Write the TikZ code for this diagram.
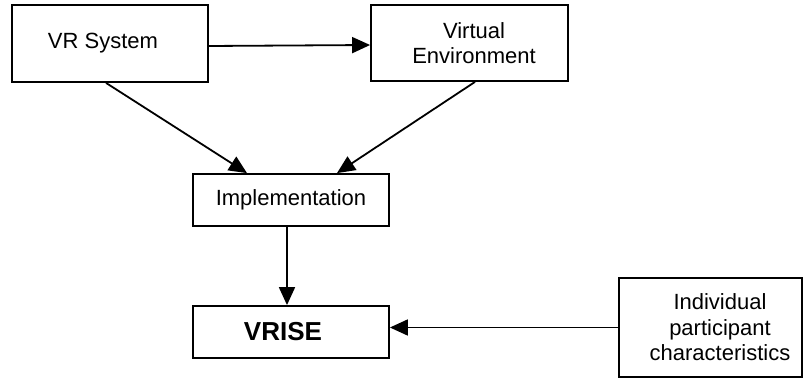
\documentclass[tikz,border=0pt]{standalone}
\usepackage{fontspec}
\setmainfont{Liberation Sans}
\usetikzlibrary{arrows.meta}
\begin{document}
\begin{tikzpicture}[x=1pt,y=-1pt,
  box/.style={draw,line width=1.8pt,rectangle,inner sep=0pt,align=center,
    font=\fontsize{22}{25.5}\selectfont},
  conn/.style={line width=1.8pt,-{Triangle[length=18pt,width=16pt]}}]
\useasboundingbox (0,0) rectangle (804,379);
\node[box,minimum width=196pt,minimum height=77pt] (vr) at (110,43.5) {\hspace*{-14pt}VR System};
\node[box,minimum width=197pt,minimum height=76pt] (ve) at (469.5,43) {\hspace*{9pt}Virtual\\\hspace*{9pt}Environment};
\node[box,minimum width=196pt,minimum height=52pt] (impl) at (291,200) {Implementation};
\node[box,minimum width=196pt,minimum height=52pt,font=\fontsize{26}{30}\selectfont\bfseries] (vrise) at (291,332) {\hspace*{-16pt}VRISE};
\node[box,minimum width=183pt,minimum height=99pt] (ind) at (710.5,327.5) {\hspace*{19pt}Individual\\\hspace*{19pt}participant\\\hspace*{19pt}characteristics};
\draw[conn] ([yshift=-2.5pt]vr.east) -- ([yshift=-2pt]ve.west);
\draw[conn] ([xshift=-4pt]vr.south) -- ([xshift=-44pt]impl.north);
\draw[conn] ([xshift=5.5pt]ve.south) -- ([xshift=46pt]impl.north);
\draw[conn] ([xshift=-4pt]impl.south) -- ([xshift=-4pt]vrise.north);
\draw[conn] (ind.west) -- (vrise.east |- ind.west);
\end{tikzpicture}
\end{document}
